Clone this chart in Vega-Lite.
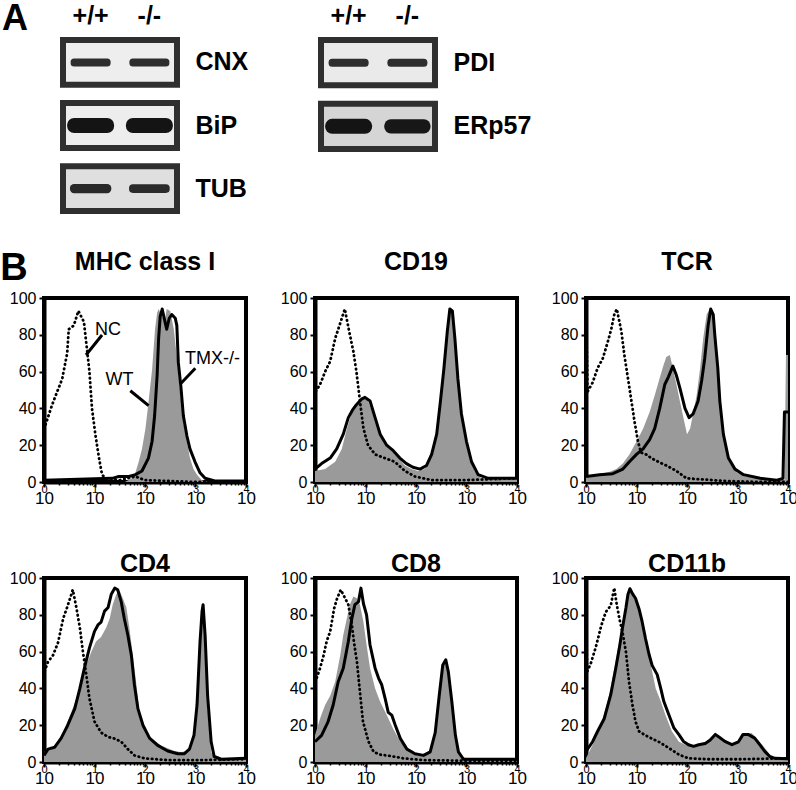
{
"$schema": "https://vega.github.io/schema/vega-lite/v6.json",
"background": "white",
"padding": {"left": 0, "right": 0, "top": 0, "bottom": 0},
"config": {
  "font": "Liberation Sans",
  "axis": {"labelFont": "Liberation Sans", "labelColor": "black", "tickColor": "black", "domainColor": "black", "titleColor": "black", "titleFont": "Liberation Sans", "labelOverlap": false},
  "title": {"font": "Liberation Sans", "fontWeight": "bold", "fontSize": 25, "color": "black", "frame": "group", "baseline": "alphabetic"},
  "text": {"font": "Liberation Sans"}
},
"datasets": {
  "membranes": [
    {"gel": "left", "protein": "CNX", "background": 0.1},
    {"gel": "left", "protein": "BiP", "background": 0.12},
    {"gel": "left", "protein": "TUB", "background": 0.45},
    {"gel": "right", "protein": "PDI", "background": 0.2},
    {"gel": "right", "protein": "ERp57", "background": 0.7}
  ],
  "bands": [
    {"gel": "left", "protein": "CNX", "lane": "+/+", "signal": 1.0},
    {"gel": "left", "protein": "CNX", "lane": "-/-", "signal": 1.0},
    {"gel": "left", "protein": "BiP", "lane": "+/+", "signal": 2.0},
    {"gel": "left", "protein": "BiP", "lane": "-/-", "signal": 2.0},
    {"gel": "left", "protein": "TUB", "lane": "+/+", "signal": 1.2},
    {"gel": "left", "protein": "TUB", "lane": "-/-", "signal": 1.1},
    {"gel": "right", "protein": "PDI", "lane": "+/+", "signal": 1.0},
    {"gel": "right", "protein": "PDI", "lane": "-/-", "signal": 1.0},
    {"gel": "right", "protein": "ERp57", "lane": "+/+", "signal": 2.0},
    {"gel": "right", "protein": "ERp57", "lane": "-/-", "signal": 1.9}
  ],
  "notes": [
    {"panel": "MHC", "label": "NC", "fl": 18.5, "pct": 82.6, "from_fl": 14.1, "from_pct": 79.9, "to_fl": 6.79, "to_pct": 69},
    {"panel": "MHC", "label": "WT", "fl": 31.3, "pct": 55.4, "from_fl": 51.2, "from_pct": 49.6, "to_fl": 118, "to_pct": 41.5},
    {"panel": "MHC", "label": "TMX-/-", "fl": 2173, "pct": 67.1, "from_fl": 991, "from_pct": 61.8, "to_fl": 501, "to_pct": 53.3}
  ],
  "hist": [
{"panel":"MHC","series":"NC","fl":1,"pct":100},{"panel":"MHC","series":"NC","fl":1.01,"pct":29},{"panel":"MHC","series":"NC","fl":1.45,"pct":42},{"panel":"MHC","series":"NC","fl":1.82,"pct":49},{"panel":"MHC","series":"NC","fl":2.29,"pct":56},{"panel":"MHC","series":"NC","fl":2.88,"pct":70},{"panel":"MHC","series":"NC","fl":3.09,"pct":83},{"panel":"MHC","series":"NC","fl":3.89,"pct":85},{"panel":"MHC","series":"NC","fl":4.79,"pct":93},{"panel":"MHC","series":"NC","fl":6.17,"pct":87},{"panel":"MHC","series":"NC","fl":7.24,"pct":70},{"panel":"MHC","series":"NC","fl":7.94,"pct":60},{"panel":"MHC","series":"NC","fl":8.91,"pct":40},{"panel":"MHC","series":"NC","fl":10.5,"pct":25},{"panel":"MHC","series":"NC","fl":12.3,"pct":13},{"panel":"MHC","series":"NC","fl":14.1,"pct":4},{"panel":"MHC","series":"NC","fl":16.6,"pct":2},{"panel":"MHC","series":"NC","fl":31.6,"pct":1},{"panel":"MHC","series":"NC","fl":64.6,"pct":3},{"panel":"MHC","series":"NC","fl":100,"pct":1},{"panel":"MHC","series":"NC","fl":316,"pct":0.5},{"panel":"MHC","series":"NC","fl":1000,"pct":0},{"panel":"MHC","series":"NC","fl":10000,"pct":0},
{"panel":"MHC","series":"WT","fl":39.8,"pct":0},{"panel":"MHC","series":"WT","fl":55,"pct":2},{"panel":"MHC","series":"WT","fl":64.6,"pct":5},{"panel":"MHC","series":"WT","fl":75,"pct":11},{"panel":"MHC","series":"WT","fl":87.1,"pct":18},{"panel":"MHC","series":"WT","fl":102,"pct":29},{"panel":"MHC","series":"WT","fl":117,"pct":43},{"panel":"MHC","series":"WT","fl":138,"pct":61},{"panel":"MHC","series":"WT","fl":158,"pct":83},{"panel":"MHC","series":"WT","fl":174,"pct":92},{"panel":"MHC","series":"WT","fl":186,"pct":94},{"panel":"MHC","series":"WT","fl":219,"pct":90},{"panel":"MHC","series":"WT","fl":251,"pct":89},{"panel":"MHC","series":"WT","fl":269,"pct":94},{"panel":"MHC","series":"WT","fl":316,"pct":93},{"panel":"MHC","series":"WT","fl":372,"pct":83},{"panel":"MHC","series":"WT","fl":427,"pct":68},{"panel":"MHC","series":"WT","fl":501,"pct":48},{"panel":"MHC","series":"WT","fl":575,"pct":32},{"panel":"MHC","series":"WT","fl":676,"pct":22},{"panel":"MHC","series":"WT","fl":776,"pct":13},{"panel":"MHC","series":"WT","fl":912,"pct":7},{"panel":"MHC","series":"WT","fl":1072,"pct":4},{"panel":"MHC","series":"WT","fl":1334,"pct":1},{"panel":"MHC","series":"WT","fl":1778,"pct":0},
{"panel":"MHC","series":"TMX-/-","fl":1,"pct":1},{"panel":"MHC","series":"TMX-/-","fl":22.4,"pct":2},{"panel":"MHC","series":"TMX-/-","fl":30.2,"pct":3},{"panel":"MHC","series":"TMX-/-","fl":47.9,"pct":3},{"panel":"MHC","series":"TMX-/-","fl":64.6,"pct":4},{"panel":"MHC","series":"TMX-/-","fl":87.1,"pct":6},{"panel":"MHC","series":"TMX-/-","fl":117,"pct":13},{"panel":"MHC","series":"TMX-/-","fl":138,"pct":22},{"panel":"MHC","series":"TMX-/-","fl":155,"pct":36},{"panel":"MHC","series":"TMX-/-","fl":174,"pct":58},{"panel":"MHC","series":"TMX-/-","fl":186,"pct":78},{"panel":"MHC","series":"TMX-/-","fl":200,"pct":90},{"panel":"MHC","series":"TMX-/-","fl":219,"pct":94},{"panel":"MHC","series":"TMX-/-","fl":240,"pct":89},{"panel":"MHC","series":"TMX-/-","fl":269,"pct":83},{"panel":"MHC","series":"TMX-/-","fl":302,"pct":89},{"panel":"MHC","series":"TMX-/-","fl":339,"pct":91},{"panel":"MHC","series":"TMX-/-","fl":398,"pct":89},{"panel":"MHC","series":"TMX-/-","fl":427,"pct":85},{"panel":"MHC","series":"TMX-/-","fl":457,"pct":65},{"panel":"MHC","series":"TMX-/-","fl":513,"pct":52},{"panel":"MHC","series":"TMX-/-","fl":575,"pct":36},{"panel":"MHC","series":"TMX-/-","fl":676,"pct":25},{"panel":"MHC","series":"TMX-/-","fl":776,"pct":18},{"panel":"MHC","series":"TMX-/-","fl":977,"pct":11},{"panel":"MHC","series":"TMX-/-","fl":1230,"pct":5},{"panel":"MHC","series":"TMX-/-","fl":1549,"pct":2},{"panel":"MHC","series":"TMX-/-","fl":2512,"pct":0.5},{"panel":"MHC","series":"TMX-/-","fl":10000,"pct":0.5},
{"panel":"CD19","series":"NC","fl":1,"pct":100},{"panel":"CD19","series":"NC","fl":1.02,"pct":49},{"panel":"CD19","series":"NC","fl":1.26,"pct":53},{"panel":"CD19","series":"NC","fl":1.585,"pct":60},{"panel":"CD19","series":"NC","fl":2.0,"pct":65.6},{"panel":"CD19","series":"NC","fl":2.51,"pct":78},{"panel":"CD19","series":"NC","fl":3.09,"pct":85.5},{"panel":"CD19","series":"NC","fl":3.89,"pct":94},{"panel":"CD19","series":"NC","fl":4.9,"pct":80},{"panel":"CD19","series":"NC","fl":5.75,"pct":71},{"panel":"CD19","series":"NC","fl":6.61,"pct":60},{"panel":"CD19","series":"NC","fl":7.76,"pct":44},{"panel":"CD19","series":"NC","fl":9.12,"pct":29},{"panel":"CD19","series":"NC","fl":11.2,"pct":20},{"panel":"CD19","series":"NC","fl":15.5,"pct":15},{"panel":"CD19","series":"NC","fl":24,"pct":13},{"panel":"CD19","series":"NC","fl":38,"pct":11},{"panel":"CD19","series":"NC","fl":60.3,"pct":6},{"panel":"CD19","series":"NC","fl":95.5,"pct":3},{"panel":"CD19","series":"NC","fl":204,"pct":1},{"panel":"CD19","series":"NC","fl":933,"pct":1},{"panel":"CD19","series":"NC","fl":8913,"pct":2},{"panel":"CD19","series":"NC","fl":10000,"pct":2},
{"panel":"CD19","series":"WT","fl":1,"pct":6},{"panel":"CD19","series":"WT","fl":1.585,"pct":7},{"panel":"CD19","series":"WT","fl":2.51,"pct":11},{"panel":"CD19","series":"WT","fl":3.39,"pct":18},{"panel":"CD19","series":"WT","fl":4.27,"pct":29},{"panel":"CD19","series":"WT","fl":5.25,"pct":37},{"panel":"CD19","series":"WT","fl":6.61,"pct":42},{"panel":"CD19","series":"WT","fl":8.32,"pct":45},{"panel":"CD19","series":"WT","fl":9.77,"pct":46},{"panel":"CD19","series":"WT","fl":11.2,"pct":44},{"panel":"CD19","series":"WT","fl":14.1,"pct":37},{"panel":"CD19","series":"WT","fl":17.8,"pct":29},{"panel":"CD19","series":"WT","fl":24,"pct":22},{"panel":"CD19","series":"WT","fl":33.1,"pct":18},{"panel":"CD19","series":"WT","fl":44.7,"pct":13},{"panel":"CD19","series":"WT","fl":60.3,"pct":9},{"panel":"CD19","series":"WT","fl":81.3,"pct":7},{"panel":"CD19","series":"WT","fl":110,"pct":6},{"panel":"CD19","series":"WT","fl":148,"pct":7},{"panel":"CD19","series":"WT","fl":186,"pct":11},{"panel":"CD19","series":"WT","fl":234,"pct":20},{"panel":"CD19","series":"WT","fl":295,"pct":38},{"panel":"CD19","series":"WT","fl":347,"pct":56},{"panel":"CD19","series":"WT","fl":398,"pct":76},{"panel":"CD19","series":"WT","fl":468,"pct":93},{"panel":"CD19","series":"WT","fl":490,"pct":95},{"panel":"CD19","series":"WT","fl":537,"pct":87},{"panel":"CD19","series":"WT","fl":631,"pct":66},{"panel":"CD19","series":"WT","fl":741,"pct":42},{"panel":"CD19","series":"WT","fl":933,"pct":24},{"panel":"CD19","series":"WT","fl":1148,"pct":13},{"panel":"CD19","series":"WT","fl":1445,"pct":6},{"panel":"CD19","series":"WT","fl":1950,"pct":2},{"panel":"CD19","series":"WT","fl":4169,"pct":1},{"panel":"CD19","series":"WT","fl":10000,"pct":2},
{"panel":"CD19","series":"TMX-/-","fl":1,"pct":7},{"panel":"CD19","series":"TMX-/-","fl":1.35,"pct":10},{"panel":"CD19","series":"TMX-/-","fl":2.0,"pct":13},{"panel":"CD19","series":"TMX-/-","fl":2.69,"pct":18},{"panel":"CD19","series":"TMX-/-","fl":3.63,"pct":26},{"panel":"CD19","series":"TMX-/-","fl":4.57,"pct":35},{"panel":"CD19","series":"TMX-/-","fl":5.5,"pct":39},{"panel":"CD19","series":"TMX-/-","fl":6.61,"pct":42},{"panel":"CD19","series":"TMX-/-","fl":8.32,"pct":45},{"panel":"CD19","series":"TMX-/-","fl":9.77,"pct":46},{"panel":"CD19","series":"TMX-/-","fl":12.3,"pct":44},{"panel":"CD19","series":"TMX-/-","fl":15.5,"pct":35},{"panel":"CD19","series":"TMX-/-","fl":19.5,"pct":26},{"panel":"CD19","series":"TMX-/-","fl":26.3,"pct":20},{"panel":"CD19","series":"TMX-/-","fl":35.5,"pct":17},{"panel":"CD19","series":"TMX-/-","fl":47.9,"pct":13},{"panel":"CD19","series":"TMX-/-","fl":64.6,"pct":10},{"panel":"CD19","series":"TMX-/-","fl":87.1,"pct":8},{"panel":"CD19","series":"TMX-/-","fl":120,"pct":7},{"panel":"CD19","series":"TMX-/-","fl":162,"pct":9},{"panel":"CD19","series":"TMX-/-","fl":204,"pct":15},{"panel":"CD19","series":"TMX-/-","fl":257,"pct":26},{"panel":"CD19","series":"TMX-/-","fl":302,"pct":43},{"panel":"CD19","series":"TMX-/-","fl":355,"pct":61},{"panel":"CD19","series":"TMX-/-","fl":417,"pct":82},{"panel":"CD19","series":"TMX-/-","fl":468,"pct":94},{"panel":"CD19","series":"TMX-/-","fl":525,"pct":93},{"panel":"CD19","series":"TMX-/-","fl":589,"pct":78},{"panel":"CD19","series":"TMX-/-","fl":676,"pct":56},{"panel":"CD19","series":"TMX-/-","fl":794,"pct":37},{"panel":"CD19","series":"TMX-/-","fl":1000,"pct":22},{"panel":"CD19","series":"TMX-/-","fl":1259,"pct":11},{"panel":"CD19","series":"TMX-/-","fl":1698,"pct":4},{"panel":"CD19","series":"TMX-/-","fl":2692,"pct":2},{"panel":"CD19","series":"TMX-/-","fl":10000,"pct":2},
{"panel":"TCR","series":"NC","fl":1,"pct":100},{"panel":"TCR","series":"NC","fl":1.07,"pct":49},{"panel":"TCR","series":"NC","fl":1.35,"pct":54},{"panel":"TCR","series":"NC","fl":1.7,"pct":62},{"panel":"TCR","series":"NC","fl":2.14,"pct":67},{"panel":"TCR","series":"NC","fl":2.69,"pct":76},{"panel":"TCR","series":"NC","fl":3.16,"pct":83},{"panel":"TCR","series":"NC","fl":3.63,"pct":91},{"panel":"TCR","series":"NC","fl":4.07,"pct":94},{"panel":"TCR","series":"NC","fl":5.01,"pct":82},{"panel":"TCR","series":"NC","fl":5.75,"pct":69},{"panel":"TCR","series":"NC","fl":6.76,"pct":56.5},{"panel":"TCR","series":"NC","fl":7.94,"pct":44},{"panel":"TCR","series":"NC","fl":9.12,"pct":33},{"panel":"TCR","series":"NC","fl":10.7,"pct":22},{"panel":"TCR","series":"NC","fl":12.3,"pct":16},{"panel":"TCR","series":"NC","fl":15.5,"pct":15},{"panel":"TCR","series":"NC","fl":19.5,"pct":13},{"panel":"TCR","series":"NC","fl":26.9,"pct":11},{"panel":"TCR","series":"NC","fl":38.9,"pct":9},{"panel":"TCR","series":"NC","fl":61.7,"pct":6},{"panel":"TCR","series":"NC","fl":97.7,"pct":2},{"panel":"TCR","series":"NC","fl":182,"pct":1.5},{"panel":"TCR","series":"NC","fl":617,"pct":0.5},{"panel":"TCR","series":"NC","fl":2818,"pct":0},{"panel":"TCR","series":"NC","fl":10000,"pct":0},
{"panel":"TCR","series":"WT","fl":1,"pct":3},{"panel":"TCR","series":"WT","fl":1.86,"pct":4.5},{"panel":"TCR","series":"WT","fl":2.88,"pct":5.4},{"panel":"TCR","series":"WT","fl":3.98,"pct":7},{"panel":"TCR","series":"WT","fl":5.37,"pct":10},{"panel":"TCR","series":"WT","fl":7.24,"pct":15},{"panel":"TCR","series":"WT","fl":10,"pct":22},{"panel":"TCR","series":"WT","fl":13.5,"pct":29},{"panel":"TCR","series":"WT","fl":18.2,"pct":38},{"panel":"TCR","series":"WT","fl":22.9,"pct":47},{"panel":"TCR","series":"WT","fl":28.8,"pct":56.5},{"panel":"TCR","series":"WT","fl":33.9,"pct":63},{"panel":"TCR","series":"WT","fl":38.9,"pct":68},{"panel":"TCR","series":"WT","fl":45.7,"pct":69},{"panel":"TCR","series":"WT","fl":52.5,"pct":62},{"panel":"TCR","series":"WT","fl":61.7,"pct":53},{"panel":"TCR","series":"WT","fl":77.6,"pct":40},{"panel":"TCR","series":"WT","fl":91.2,"pct":31},{"panel":"TCR","series":"WT","fl":100,"pct":26},{"panel":"TCR","series":"WT","fl":115,"pct":29},{"panel":"TCR","series":"WT","fl":132,"pct":37},{"panel":"TCR","series":"WT","fl":155,"pct":47},{"panel":"TCR","series":"WT","fl":182,"pct":62},{"panel":"TCR","series":"WT","fl":209,"pct":78},{"panel":"TCR","series":"WT","fl":245,"pct":91},{"panel":"TCR","series":"WT","fl":282,"pct":94},{"panel":"TCR","series":"WT","fl":324,"pct":91},{"panel":"TCR","series":"WT","fl":355,"pct":78},{"panel":"TCR","series":"WT","fl":417,"pct":56},{"panel":"TCR","series":"WT","fl":490,"pct":34},{"panel":"TCR","series":"WT","fl":562,"pct":20},{"panel":"TCR","series":"WT","fl":708,"pct":11},{"panel":"TCR","series":"WT","fl":977,"pct":5},{"panel":"TCR","series":"WT","fl":1514,"pct":3},{"panel":"TCR","series":"WT","fl":2818,"pct":2},{"panel":"TCR","series":"WT","fl":5129,"pct":1},{"panel":"TCR","series":"WT","fl":8511,"pct":1},{"panel":"TCR","series":"WT","fl":9120,"pct":69},{"panel":"TCR","series":"WT","fl":10000,"pct":69},
{"panel":"TCR","series":"TMX-/-","fl":1,"pct":3},{"panel":"TCR","series":"TMX-/-","fl":1.86,"pct":4},{"panel":"TCR","series":"TMX-/-","fl":3.39,"pct":4.5},{"panel":"TCR","series":"TMX-/-","fl":5.37,"pct":7},{"panel":"TCR","series":"TMX-/-","fl":7.24,"pct":11},{"panel":"TCR","series":"TMX-/-","fl":10,"pct":15},{"panel":"TCR","series":"TMX-/-","fl":13.5,"pct":18},{"panel":"TCR","series":"TMX-/-","fl":18.2,"pct":23},{"panel":"TCR","series":"TMX-/-","fl":22.9,"pct":29},{"panel":"TCR","series":"TMX-/-","fl":28.8,"pct":40},{"panel":"TCR","series":"TMX-/-","fl":36.3,"pct":53},{"panel":"TCR","series":"TMX-/-","fl":42.7,"pct":57},{"panel":"TCR","series":"TMX-/-","fl":52.5,"pct":63},{"panel":"TCR","series":"TMX-/-","fl":61.7,"pct":58},{"panel":"TCR","series":"TMX-/-","fl":72.4,"pct":51},{"panel":"TCR","series":"TMX-/-","fl":91.2,"pct":40},{"panel":"TCR","series":"TMX-/-","fl":110,"pct":35},{"panel":"TCR","series":"TMX-/-","fl":132,"pct":37},{"panel":"TCR","series":"TMX-/-","fl":166,"pct":44},{"panel":"TCR","series":"TMX-/-","fl":195,"pct":55},{"panel":"TCR","series":"TMX-/-","fl":224,"pct":67},{"panel":"TCR","series":"TMX-/-","fl":263,"pct":85.5},{"panel":"TCR","series":"TMX-/-","fl":295,"pct":94},{"panel":"TCR","series":"TMX-/-","fl":331,"pct":91},{"panel":"TCR","series":"TMX-/-","fl":355,"pct":80},{"panel":"TCR","series":"TMX-/-","fl":407,"pct":62},{"panel":"TCR","series":"TMX-/-","fl":447,"pct":44},{"panel":"TCR","series":"TMX-/-","fl":525,"pct":26},{"panel":"TCR","series":"TMX-/-","fl":661,"pct":13},{"panel":"TCR","series":"TMX-/-","fl":891,"pct":7},{"panel":"TCR","series":"TMX-/-","fl":1318,"pct":4},{"panel":"TCR","series":"TMX-/-","fl":2818,"pct":2},{"panel":"TCR","series":"TMX-/-","fl":6026,"pct":1},{"panel":"TCR","series":"TMX-/-","fl":7943,"pct":2},{"panel":"TCR","series":"TMX-/-","fl":8511,"pct":38},{"panel":"TCR","series":"TMX-/-","fl":10000,"pct":38},
{"panel":"CD4","series":"NC","fl":1,"pct":100},{"panel":"CD4","series":"NC","fl":1.02,"pct":49},{"panel":"CD4","series":"NC","fl":1.2,"pct":54.5},{"panel":"CD4","series":"NC","fl":1.51,"pct":58},{"panel":"CD4","series":"NC","fl":1.9,"pct":65},{"panel":"CD4","series":"NC","fl":2.4,"pct":78},{"panel":"CD4","series":"NC","fl":2.95,"pct":85},{"panel":"CD4","series":"NC","fl":3.72,"pct":93.6},{"panel":"CD4","series":"NC","fl":4.37,"pct":84},{"panel":"CD4","series":"NC","fl":5.13,"pct":73},{"panel":"CD4","series":"NC","fl":5.89,"pct":60},{"panel":"CD4","series":"NC","fl":6.92,"pct":47},{"panel":"CD4","series":"NC","fl":7.94,"pct":34.5},{"panel":"CD4","series":"NC","fl":10,"pct":22},{"panel":"CD4","series":"NC","fl":13.5,"pct":16},{"panel":"CD4","series":"NC","fl":18.6,"pct":13.6},{"panel":"CD4","series":"NC","fl":25.1,"pct":12.7},{"panel":"CD4","series":"NC","fl":33.9,"pct":11},{"panel":"CD4","series":"NC","fl":45.7,"pct":7},{"panel":"CD4","series":"NC","fl":61.7,"pct":3.6},{"panel":"CD4","series":"NC","fl":97.7,"pct":2},{"panel":"CD4","series":"NC","fl":282,"pct":1},{"panel":"CD4","series":"NC","fl":1288,"pct":1},{"panel":"CD4","series":"NC","fl":7943,"pct":1.5},{"panel":"CD4","series":"NC","fl":10000,"pct":1.5},
{"panel":"CD4","series":"WT","fl":1,"pct":5.5},{"panel":"CD4","series":"WT","fl":1.4,"pct":7},{"panel":"CD4","series":"WT","fl":1.9,"pct":11},{"panel":"CD4","series":"WT","fl":2.57,"pct":18},{"panel":"CD4","series":"WT","fl":3.47,"pct":27},{"panel":"CD4","series":"WT","fl":4.37,"pct":34.5},{"panel":"CD4","series":"WT","fl":5.5,"pct":43.6},{"panel":"CD4","series":"WT","fl":6.92,"pct":53},{"panel":"CD4","series":"WT","fl":8.71,"pct":60},{"panel":"CD4","series":"WT","fl":10.7,"pct":65.5},{"panel":"CD4","series":"WT","fl":13.5,"pct":68},{"panel":"CD4","series":"WT","fl":17,"pct":73},{"panel":"CD4","series":"WT","fl":20,"pct":78},{"panel":"CD4","series":"WT","fl":22.9,"pct":85.5},{"panel":"CD4","series":"WT","fl":26.9,"pct":91},{"panel":"CD4","series":"WT","fl":31.6,"pct":93},{"panel":"CD4","series":"WT","fl":36.3,"pct":89},{"panel":"CD4","series":"WT","fl":42.7,"pct":84},{"panel":"CD4","series":"WT","fl":49,"pct":73},{"panel":"CD4","series":"WT","fl":57.5,"pct":58},{"panel":"CD4","series":"WT","fl":67.6,"pct":42},{"panel":"CD4","series":"WT","fl":77.6,"pct":27},{"panel":"CD4","series":"WT","fl":97.7,"pct":18},{"panel":"CD4","series":"WT","fl":132,"pct":13},{"panel":"CD4","series":"WT","fl":209,"pct":9},{"panel":"CD4","series":"WT","fl":380,"pct":6},{"panel":"CD4","series":"WT","fl":513,"pct":5.5},{"panel":"CD4","series":"WT","fl":708,"pct":6},{"panel":"CD4","series":"WT","fl":891,"pct":13},{"panel":"CD4","series":"WT","fl":1023,"pct":29},{"panel":"CD4","series":"WT","fl":1202,"pct":56},{"panel":"CD4","series":"WT","fl":1288,"pct":80},{"panel":"CD4","series":"WT","fl":1380,"pct":85},{"panel":"CD4","series":"WT","fl":1549,"pct":62},{"panel":"CD4","series":"WT","fl":1738,"pct":29},{"panel":"CD4","series":"WT","fl":2042,"pct":5.5},{"panel":"CD4","series":"WT","fl":2344,"pct":2},{"panel":"CD4","series":"WT","fl":5888,"pct":1},{"panel":"CD4","series":"WT","fl":10000,"pct":1.5},
{"panel":"CD4","series":"TMX-/-","fl":1,"pct":3.6},{"panel":"CD4","series":"TMX-/-","fl":1.2,"pct":7},{"panel":"CD4","series":"TMX-/-","fl":1.62,"pct":8},{"panel":"CD4","series":"TMX-/-","fl":2.19,"pct":13},{"panel":"CD4","series":"TMX-/-","fl":2.95,"pct":20},{"panel":"CD4","series":"TMX-/-","fl":4.07,"pct":29},{"panel":"CD4","series":"TMX-/-","fl":5.13,"pct":40},{"panel":"CD4","series":"TMX-/-","fl":6.31,"pct":51},{"panel":"CD4","series":"TMX-/-","fl":7.94,"pct":62},{"panel":"CD4","series":"TMX-/-","fl":10,"pct":71},{"panel":"CD4","series":"TMX-/-","fl":11.7,"pct":74.5},{"panel":"CD4","series":"TMX-/-","fl":13.5,"pct":76},{"panel":"CD4","series":"TMX-/-","fl":15.8,"pct":82},{"panel":"CD4","series":"TMX-/-","fl":18.6,"pct":84},{"panel":"CD4","series":"TMX-/-","fl":21.4,"pct":91},{"panel":"CD4","series":"TMX-/-","fl":25.1,"pct":94.5},{"panel":"CD4","series":"TMX-/-","fl":28.8,"pct":93.6},{"panel":"CD4","series":"TMX-/-","fl":33.9,"pct":87},{"panel":"CD4","series":"TMX-/-","fl":38.9,"pct":78},{"panel":"CD4","series":"TMX-/-","fl":45.7,"pct":69},{"panel":"CD4","series":"TMX-/-","fl":53.7,"pct":58},{"panel":"CD4","series":"TMX-/-","fl":61.7,"pct":42},{"panel":"CD4","series":"TMX-/-","fl":72.4,"pct":29},{"panel":"CD4","series":"TMX-/-","fl":91.2,"pct":20},{"panel":"CD4","series":"TMX-/-","fl":123,"pct":13},{"panel":"CD4","series":"TMX-/-","fl":178,"pct":9},{"panel":"CD4","series":"TMX-/-","fl":282,"pct":6},{"panel":"CD4","series":"TMX-/-","fl":447,"pct":4.5},{"panel":"CD4","series":"TMX-/-","fl":603,"pct":4.5},{"panel":"CD4","series":"TMX-/-","fl":759,"pct":7},{"panel":"CD4","series":"TMX-/-","fl":933,"pct":14.5},{"panel":"CD4","series":"TMX-/-","fl":1072,"pct":31},{"panel":"CD4","series":"TMX-/-","fl":1230,"pct":65.5},{"panel":"CD4","series":"TMX-/-","fl":1349,"pct":82},{"panel":"CD4","series":"TMX-/-","fl":1413,"pct":85.5},{"panel":"CD4","series":"TMX-/-","fl":1549,"pct":69},{"panel":"CD4","series":"TMX-/-","fl":1738,"pct":36},{"panel":"CD4","series":"TMX-/-","fl":2042,"pct":11},{"panel":"CD4","series":"TMX-/-","fl":2344,"pct":3},{"panel":"CD4","series":"TMX-/-","fl":3236,"pct":1.5},{"panel":"CD4","series":"TMX-/-","fl":10000,"pct":2},
{"panel":"CD8","series":"NC","fl":1,"pct":100},{"panel":"CD8","series":"NC","fl":1.02,"pct":43.6},{"panel":"CD8","series":"NC","fl":1.26,"pct":51},{"panel":"CD8","series":"NC","fl":1.48,"pct":58},{"panel":"CD8","series":"NC","fl":1.7,"pct":65.5},{"panel":"CD8","series":"NC","fl":2.0,"pct":71},{"panel":"CD8","series":"NC","fl":2.4,"pct":83.6},{"panel":"CD8","series":"NC","fl":2.75,"pct":89},{"panel":"CD8","series":"NC","fl":3.24,"pct":93.6},{"panel":"CD8","series":"NC","fl":3.94,"pct":89},{"panel":"CD8","series":"NC","fl":4.57,"pct":85.5},{"panel":"CD8","series":"NC","fl":5.37,"pct":74.5},{"panel":"CD8","series":"NC","fl":5.89,"pct":65.5},{"panel":"CD8","series":"NC","fl":6.76,"pct":54.5},{"panel":"CD8","series":"NC","fl":7.76,"pct":38},{"panel":"CD8","series":"NC","fl":8.91,"pct":22},{"panel":"CD8","series":"NC","fl":11.5,"pct":11},{"panel":"CD8","series":"NC","fl":14.5,"pct":5.5},{"panel":"CD8","series":"NC","fl":19.5,"pct":4},{"panel":"CD8","series":"NC","fl":30.9,"pct":3.3},{"panel":"CD8","series":"NC","fl":56.2,"pct":2},{"panel":"CD8","series":"NC","fl":141,"pct":1},{"panel":"CD8","series":"NC","fl":871,"pct":0.7},{"panel":"CD8","series":"NC","fl":10000,"pct":0.7},
{"panel":"CD8","series":"WT","fl":1,"pct":14.5},{"panel":"CD8","series":"WT","fl":1.26,"pct":23.6},{"panel":"CD8","series":"WT","fl":1.585,"pct":31},{"panel":"CD8","series":"WT","fl":2.0,"pct":36},{"panel":"CD8","series":"WT","fl":2.51,"pct":43.6},{"panel":"CD8","series":"WT","fl":3.16,"pct":58},{"panel":"CD8","series":"WT","fl":3.63,"pct":69},{"panel":"CD8","series":"WT","fl":4.27,"pct":78},{"panel":"CD8","series":"WT","fl":4.9,"pct":85.5},{"panel":"CD8","series":"WT","fl":5.75,"pct":90},{"panel":"CD8","series":"WT","fl":6.76,"pct":89},{"panel":"CD8","series":"WT","fl":7.76,"pct":85.5},{"panel":"CD8","series":"WT","fl":9.12,"pct":76},{"panel":"CD8","series":"WT","fl":10.5,"pct":63.6},{"panel":"CD8","series":"WT","fl":12.3,"pct":51},{"panel":"CD8","series":"WT","fl":15.5,"pct":40},{"panel":"CD8","series":"WT","fl":19.5,"pct":32.7},{"panel":"CD8","series":"WT","fl":26.3,"pct":25.5},{"panel":"CD8","series":"WT","fl":35.5,"pct":18},{"panel":"CD8","series":"WT","fl":49,"pct":11},{"panel":"CD8","series":"WT","fl":66.1,"pct":7},{"panel":"CD8","series":"WT","fl":105,"pct":3.6},{"panel":"CD8","series":"WT","fl":141,"pct":3.3},{"panel":"CD8","series":"WT","fl":191,"pct":5.5},{"panel":"CD8","series":"WT","fl":240,"pct":16},{"panel":"CD8","series":"WT","fl":282,"pct":34.5},{"panel":"CD8","series":"WT","fl":324,"pct":50},{"panel":"CD8","series":"WT","fl":372,"pct":54.5},{"panel":"CD8","series":"WT","fl":437,"pct":47},{"panel":"CD8","series":"WT","fl":513,"pct":29},{"panel":"CD8","series":"WT","fl":603,"pct":12.7},{"panel":"CD8","series":"WT","fl":759,"pct":3.6},{"panel":"CD8","series":"WT","fl":1175,"pct":1},{"panel":"CD8","series":"WT","fl":10000,"pct":1},
{"panel":"CD8","series":"TMX-/-","fl":1,"pct":11},{"panel":"CD8","series":"TMX-/-","fl":1.35,"pct":14.5},{"panel":"CD8","series":"TMX-/-","fl":1.82,"pct":22},{"panel":"CD8","series":"TMX-/-","fl":2.29,"pct":31},{"panel":"CD8","series":"TMX-/-","fl":2.88,"pct":43.6},{"panel":"CD8","series":"TMX-/-","fl":3.63,"pct":51},{"panel":"CD8","series":"TMX-/-","fl":4.57,"pct":65.5},{"panel":"CD8","series":"TMX-/-","fl":5.37,"pct":78},{"panel":"CD8","series":"TMX-/-","fl":6.17,"pct":85.5},{"panel":"CD8","series":"TMX-/-","fl":7.24,"pct":87},{"panel":"CD8","series":"TMX-/-","fl":8.13,"pct":94.5},{"panel":"CD8","series":"TMX-/-","fl":9.12,"pct":86},{"panel":"CD8","series":"TMX-/-","fl":10.5,"pct":80},{"panel":"CD8","series":"TMX-/-","fl":12.3,"pct":63.6},{"panel":"CD8","series":"TMX-/-","fl":15.5,"pct":51},{"panel":"CD8","series":"TMX-/-","fl":18.2,"pct":45.5},{"panel":"CD8","series":"TMX-/-","fl":20.9,"pct":42},{"panel":"CD8","series":"TMX-/-","fl":24.5,"pct":34.5},{"panel":"CD8","series":"TMX-/-","fl":28.2,"pct":27},{"panel":"CD8","series":"TMX-/-","fl":33.1,"pct":25.5},{"panel":"CD8","series":"TMX-/-","fl":38.9,"pct":20},{"panel":"CD8","series":"TMX-/-","fl":49,"pct":12.7},{"panel":"CD8","series":"TMX-/-","fl":66.1,"pct":7},{"panel":"CD8","series":"TMX-/-","fl":95.5,"pct":4.5},{"panel":"CD8","series":"TMX-/-","fl":141,"pct":3.6},{"panel":"CD8","series":"TMX-/-","fl":191,"pct":5.5},{"panel":"CD8","series":"TMX-/-","fl":240,"pct":16},{"panel":"CD8","series":"TMX-/-","fl":288,"pct":36},{"panel":"CD8","series":"TMX-/-","fl":339,"pct":52.7},{"panel":"CD8","series":"TMX-/-","fl":389,"pct":55.5},{"panel":"CD8","series":"TMX-/-","fl":437,"pct":49},{"panel":"CD8","series":"TMX-/-","fl":513,"pct":32.7},{"panel":"CD8","series":"TMX-/-","fl":603,"pct":14.5},{"panel":"CD8","series":"TMX-/-","fl":692,"pct":5.5},{"panel":"CD8","series":"TMX-/-","fl":871,"pct":1.5},{"panel":"CD8","series":"TMX-/-","fl":10000,"pct":1.5},
{"panel":"CD11b","series":"NC","fl":1,"pct":100},{"panel":"CD11b","series":"NC","fl":1.05,"pct":49},{"panel":"CD11b","series":"NC","fl":1.26,"pct":54},{"panel":"CD11b","series":"NC","fl":1.585,"pct":63},{"panel":"CD11b","series":"NC","fl":2.0,"pct":74},{"panel":"CD11b","series":"NC","fl":2.46,"pct":81.5},{"panel":"CD11b","series":"NC","fl":3.09,"pct":85},{"panel":"CD11b","series":"NC","fl":3.63,"pct":94.6},{"panel":"CD11b","series":"NC","fl":3.98,"pct":87},{"panel":"CD11b","series":"NC","fl":4.57,"pct":78},{"panel":"CD11b","series":"NC","fl":5.25,"pct":71},{"panel":"CD11b","series":"NC","fl":6.17,"pct":60},{"panel":"CD11b","series":"NC","fl":7.08,"pct":44},{"panel":"CD11b","series":"NC","fl":8.32,"pct":31},{"panel":"CD11b","series":"NC","fl":9.55,"pct":22},{"panel":"CD11b","series":"NC","fl":11.2,"pct":16.7},{"panel":"CD11b","series":"NC","fl":14.1,"pct":14.9},{"panel":"CD11b","series":"NC","fl":19.1,"pct":13},{"panel":"CD11b","series":"NC","fl":27.5,"pct":11},{"panel":"CD11b","series":"NC","fl":43.7,"pct":7.6},{"panel":"CD11b","series":"NC","fl":69.2,"pct":4},{"panel":"CD11b","series":"NC","fl":107,"pct":2},{"panel":"CD11b","series":"NC","fl":269,"pct":1.5},{"panel":"CD11b","series":"NC","fl":1202,"pct":1.5},{"panel":"CD11b","series":"NC","fl":8511,"pct":2},{"panel":"CD11b","series":"NC","fl":10000,"pct":2},
{"panel":"CD11b","series":"WT","fl":1,"pct":2},{"panel":"CD11b","series":"WT","fl":1.26,"pct":7.6},{"panel":"CD11b","series":"WT","fl":1.7,"pct":15},{"panel":"CD11b","series":"WT","fl":2.29,"pct":26},{"panel":"CD11b","series":"WT","fl":2.88,"pct":36.6},{"panel":"CD11b","series":"WT","fl":3.63,"pct":51},{"panel":"CD11b","series":"WT","fl":4.57,"pct":65.6},{"panel":"CD11b","series":"WT","fl":5.5,"pct":78},{"panel":"CD11b","series":"WT","fl":6.61,"pct":91},{"panel":"CD11b","series":"WT","fl":7.67,"pct":93.3},{"panel":"CD11b","series":"WT","fl":8.91,"pct":89},{"panel":"CD11b","series":"WT","fl":10.5,"pct":85},{"panel":"CD11b","series":"WT","fl":12,"pct":78},{"panel":"CD11b","series":"WT","fl":15.1,"pct":65.6},{"panel":"CD11b","series":"WT","fl":19.1,"pct":53},{"panel":"CD11b","series":"WT","fl":24,"pct":40},{"panel":"CD11b","series":"WT","fl":30.2,"pct":33},{"panel":"CD11b","series":"WT","fl":37.2,"pct":25.7},{"panel":"CD11b","series":"WT","fl":50.1,"pct":16.7},{"panel":"CD11b","series":"WT","fl":69.2,"pct":11},{"panel":"CD11b","series":"WT","fl":93.3,"pct":9.4},{"panel":"CD11b","series":"WT","fl":126,"pct":8.5},{"panel":"CD11b","series":"WT","fl":170,"pct":9.4},{"panel":"CD11b","series":"WT","fl":229,"pct":11},{"panel":"CD11b","series":"WT","fl":309,"pct":13},{"panel":"CD11b","series":"WT","fl":389,"pct":15},{"panel":"CD11b","series":"WT","fl":490,"pct":13},{"panel":"CD11b","series":"WT","fl":661,"pct":11},{"panel":"CD11b","series":"WT","fl":891,"pct":9.4},{"panel":"CD11b","series":"WT","fl":1122,"pct":13},{"panel":"CD11b","series":"WT","fl":1413,"pct":15},{"panel":"CD11b","series":"WT","fl":1905,"pct":15.8},{"panel":"CD11b","series":"WT","fl":2570,"pct":12},{"panel":"CD11b","series":"WT","fl":3467,"pct":7.6},{"panel":"CD11b","series":"WT","fl":4677,"pct":3},{"panel":"CD11b","series":"WT","fl":6310,"pct":1.8},{"panel":"CD11b","series":"WT","fl":10000,"pct":1.3},
{"panel":"CD11b","series":"TMX-/-","fl":1,"pct":5.8},{"panel":"CD11b","series":"TMX-/-","fl":1.35,"pct":11},{"panel":"CD11b","series":"TMX-/-","fl":1.7,"pct":16.7},{"panel":"CD11b","series":"TMX-/-","fl":2.29,"pct":23.5},{"panel":"CD11b","series":"TMX-/-","fl":3.09,"pct":36.6},{"panel":"CD11b","series":"TMX-/-","fl":3.89,"pct":51},{"panel":"CD11b","series":"TMX-/-","fl":4.68,"pct":63.6},{"panel":"CD11b","series":"TMX-/-","fl":5.25,"pct":72.5},{"panel":"CD11b","series":"TMX-/-","fl":6.17,"pct":83.7},{"panel":"CD11b","series":"TMX-/-","fl":6.76,"pct":91},{"panel":"CD11b","series":"TMX-/-","fl":7.41,"pct":94.2},{"panel":"CD11b","series":"TMX-/-","fl":8.32,"pct":91.5},{"panel":"CD11b","series":"TMX-/-","fl":9.55,"pct":89},{"panel":"CD11b","series":"TMX-/-","fl":11.2,"pct":83.3},{"panel":"CD11b","series":"TMX-/-","fl":12.9,"pct":76.4},{"panel":"CD11b","series":"TMX-/-","fl":15.1,"pct":67},{"panel":"CD11b","series":"TMX-/-","fl":17.8,"pct":58.3},{"panel":"CD11b","series":"TMX-/-","fl":20.4,"pct":52.5},{"panel":"CD11b","series":"TMX-/-","fl":25.7,"pct":47.5},{"panel":"CD11b","series":"TMX-/-","fl":30.2,"pct":40},{"panel":"CD11b","series":"TMX-/-","fl":34.7,"pct":33},{"panel":"CD11b","series":"TMX-/-","fl":43.7,"pct":25.7},{"panel":"CD11b","series":"TMX-/-","fl":55,"pct":18.5},{"panel":"CD11b","series":"TMX-/-","fl":69.2,"pct":14.9},{"panel":"CD11b","series":"TMX-/-","fl":85.1,"pct":11.2},{"panel":"CD11b","series":"TMX-/-","fl":107,"pct":9.4},{"panel":"CD11b","series":"TMX-/-","fl":135,"pct":8.5},{"panel":"CD11b","series":"TMX-/-","fl":170,"pct":9.4},{"panel":"CD11b","series":"TMX-/-","fl":229,"pct":10},{"panel":"CD11b","series":"TMX-/-","fl":288,"pct":12},{"panel":"CD11b","series":"TMX-/-","fl":363,"pct":15},{"panel":"CD11b","series":"TMX-/-","fl":457,"pct":13},{"panel":"CD11b","series":"TMX-/-","fl":562,"pct":11.2},{"panel":"CD11b","series":"TMX-/-","fl":776,"pct":9.4},{"panel":"CD11b","series":"TMX-/-","fl":1047,"pct":11},{"panel":"CD11b","series":"TMX-/-","fl":1288,"pct":15},{"panel":"CD11b","series":"TMX-/-","fl":1622,"pct":15},{"panel":"CD11b","series":"TMX-/-","fl":2188,"pct":13},{"panel":"CD11b","series":"TMX-/-","fl":2754,"pct":9.4},{"panel":"CD11b","series":"TMX-/-","fl":3467,"pct":5.8},{"panel":"CD11b","series":"TMX-/-","fl":4365,"pct":3},{"panel":"CD11b","series":"TMX-/-","fl":5495,"pct":2},{"panel":"CD11b","series":"TMX-/-","fl":10000,"pct":1.8}
  ]
},
"spacing": 34,
"vconcat": [
  {
    "spacing": 12,
    "hconcat": [
      {
        "width": 1, "height": 1,
        "title": {"text": "A", "anchor": "start", "frame": "group", "dx": -42, "offset": 0, "dy": 28, "fontSize": 36, "baseline": "alphabetic"},
        "data": {"values": [{}]},
        "view": {"stroke": null},
        "mark": {"type": "point", "opacity": 0},
        "encoding": {}
      },
      {
        "spacing": 70,
        "hconcat": [
          {
            "width": 114, "height": 171,
            "view": {"stroke": null},
            "encoding": {
              "y": {"field": "protein", "type": "nominal", "sort": ["CNX", "BiP", "TUB"], "scale": {"paddingInner": 0.29, "paddingOuter": 0},
                    "axis": {"orient": "right", "labelFontSize": 25, "labelFontWeight": "bold", "ticks": false, "domain": false, "labelPadding": 18, "title": null, "labelDy": 2}}
            },
            "layer": [
              {"data": {"name": "membranes"}, "transform": [{"filter": "datum.gel == 'left'"}],
               "mark": {"type": "rect", "stroke": "#2f2f2f", "strokeWidth": 6},
               "encoding": {"x": {"value": 0}, "x2": {"value": "width"},
                 "fill": {"field": "background", "type": "quantitative", "scale": {"domain": [0, 1], "range": ["#f2f2f2", "#a0a0a0"]}, "legend": null}}},
              {"data": {"name": "bands"}, "transform": [{"filter": "datum.gel == 'left'"}],
               "mark": {"type": "tick", "orient": "horizontal", "thickness": 1, "size": 33, "strokeJoin": "round", "opacity": 1},
               "encoding": {
                 "x": {"field": "lane", "type": "nominal", "sort": ["+/+", "-/-"], "scale": {"paddingInner": 0.4, "paddingOuter": 0.17},
                       "axis": {"orient": "top", "labelFontSize": 25, "labelFontWeight": "bold", "labelAngle": 0, "ticks": false, "domain": false, "labelPadding": 12, "title": null}},
                 "fill": {"field": "signal", "type": "quantitative", "scale": {"domain": [1, 2], "range": ["#2e2e2e", "#141414"]}, "legend": null},
                 "stroke": {"field": "signal", "type": "quantitative", "scale": {"domain": [1, 2], "range": ["#2e2e2e", "#141414"]}, "legend": null},
                 "strokeWidth": {"field": "signal", "type": "quantitative", "scale": {"domain": [1, 2], "range": [7, 14]}, "legend": null}}}
            ]
          },
          {
            "width": 114, "height": 109,
            "view": {"stroke": null},
            "encoding": {
              "y": {"field": "protein", "type": "nominal", "sort": ["PDI", "ERp57"], "scale": {"paddingInner": 0.29, "paddingOuter": 0},
                    "axis": {"orient": "right", "labelFontSize": 25, "labelFontWeight": "bold", "ticks": false, "domain": false, "labelPadding": 18, "title": null, "labelDy": 2}}
            },
            "layer": [
              {"data": {"name": "membranes"}, "transform": [{"filter": "datum.gel == 'right'"}],
               "mark": {"type": "rect", "stroke": "#2f2f2f", "strokeWidth": 6},
               "encoding": {"x": {"value": 0}, "x2": {"value": "width"},
                 "fill": {"field": "background", "type": "quantitative", "scale": {"domain": [0, 1], "range": ["#f2f2f2", "#a0a0a0"]}, "legend": null}}},
              {"data": {"name": "bands"}, "transform": [{"filter": "datum.gel == 'right'"}],
               "mark": {"type": "tick", "orient": "horizontal", "thickness": 1, "size": 33, "strokeJoin": "round", "opacity": 1},
               "encoding": {
                 "x": {"field": "lane", "type": "nominal", "sort": ["+/+", "-/-"], "scale": {"paddingInner": 0.4, "paddingOuter": 0.17},
                       "axis": {"orient": "top", "labelFontSize": 25, "labelFontWeight": "bold", "labelAngle": 0, "ticks": false, "domain": false, "labelPadding": 12, "title": null}},
                 "fill": {"field": "signal", "type": "quantitative", "scale": {"domain": [1, 2], "range": ["#2e2e2e", "#141414"]}, "legend": null},
                 "stroke": {"field": "signal", "type": "quantitative", "scale": {"domain": [1, 2], "range": ["#2e2e2e", "#141414"]}, "legend": null},
                 "strokeWidth": {"field": "signal", "type": "quantitative", "scale": {"domain": [1, 2], "range": [7, 14]}, "legend": null}}}
            ]
          }
        ]
      }
    ]
  },
  {
    "spacing": 42,
    "vconcat": [
      {
        "title": {"text": "B", "anchor": "start", "frame": "bounds", "fontSize": 38, "offset": 0, "dy": 40, "dx": -7},
        "spacing": 20,
        "hconcat": [
          {
            "width": 202, "height": 184, "title": {"text": "MHC class I", "offset": 15},
            "data": {"name": "hist"}, "view": {"stroke": "black", "strokeWidth": 4},
            "resolve": {"axis": {"x": "independent"}},
            "encoding": {"y": {"field": "pct", "type": "quantitative", "scale": {"domain": [0, 100], "nice": false, "zero": false}, "axis": {"values": [0, 20, 40, 60, 80, 100], "labelFontSize": 16, "tickSize": 5, "tickWidth": 2, "labelPadding": 3, "domainWidth": 4, "grid": false, "title": null, "labelFlush": false, "labelOverlap": false, "labelBound": false}}},
            "layer": [
              {"transform": [{"filter": "datum.panel == 'MHC' && datum.series == 'WT'"}], "mark": {"type": "area", "color": "#9a9a9a", "clip": true},
               "encoding": {"x": {"field": "fl", "type": "quantitative", "scale": {"type": "log", "domain": [1, 10000], "nice": false}, "axis": {"orient": "bottom", "values": [1, 10, 100, 1000, 10000], "labelExpr": "'10'", "labelFontSize": 17, "labelDx": -6, "labelPadding": 3, "tickSize": 5, "tickWidth": 2, "domainWidth": 4, "grid": false, "title": null, "labelFlush": false, "labelOverlap": false, "labelBound": false}}}},
              {"transform": [{"filter": "datum.panel == 'MHC' && datum.series == 'NC'"}], "mark": {"type": "line", "color": "black", "strokeWidth": 2.8, "strokeDash": [0.5, 4], "strokeCap": "round", "clip": true},
               "encoding": {"x": {"field": "fl", "type": "quantitative", "axis": {"orient": "bottom", "values": [1, 10, 100, 1000, 10000], "labelExpr": "format(round(log(datum.value)/LN10), 'd')", "labelFontSize": 11, "labelDx": 8, "labelPadding": 1, "ticks": false, "tickSize": 0, "domain": false, "grid": false, "title": null, "labelFlush": false, "labelOverlap": false, "labelBound": false}}}},
              {"transform": [{"filter": "datum.panel == 'MHC' && datum.series == 'TMX-/-'"}], "mark": {"type": "line", "color": "black", "strokeWidth": 3, "strokeJoin": "round", "clip": true},
               "encoding": {"x": {"field": "fl", "type": "quantitative", "axis": {"orient": "bottom", "values": [2,3,4,5,6,7,8,9,20,30,40,50,60,70,80,90,200,300,400,500,600,700,800,900,2000,3000,4000,5000,6000,7000,8000,9000], "labels": false, "tickSize": 3, "tickWidth": 1.5, "domain": false, "grid": false, "title": null}}}},
              {"data": {"name": "notes"}, "mark": {"type": "rule", "color": "black", "strokeWidth": 3},
               "encoding": {"x": {"field": "from_fl", "type": "quantitative", "axis": null}, "x2": {"field": "to_fl"}, "y": {"field": "from_pct", "type": "quantitative", "axis": {"values": [0, 20, 40, 60, 80, 100], "labelFontSize": 16, "tickSize": 5, "tickWidth": 2, "labelPadding": 3, "domainWidth": 4, "grid": false, "title": null, "labelFlush": false, "labelOverlap": false, "labelBound": false}}, "y2": {"field": "to_pct"}}},
              {"data": {"name": "notes"}, "mark": {"type": "text", "color": "black", "fontSize": 18},
               "encoding": {"x": {"field": "fl", "type": "quantitative", "axis": null}, "y": {"field": "pct", "type": "quantitative", "axis": {"values": [0, 20, 40, 60, 80, 100], "labelFontSize": 16, "tickSize": 5, "tickWidth": 2, "labelPadding": 3, "domainWidth": 4, "grid": false, "title": null, "labelFlush": false, "labelOverlap": false, "labelBound": false}}, "text": {"field": "label"}}}
            ]
          },
          {
            "width": 202, "height": 184, "title": {"text": "CD19", "offset": 15},
            "data": {"name": "hist"}, "view": {"stroke": "black", "strokeWidth": 4},
            "resolve": {"axis": {"x": "independent"}},
            "encoding": {"y": {"field": "pct", "type": "quantitative", "scale": {"domain": [0, 100], "nice": false, "zero": false}, "axis": {"values": [0, 20, 40, 60, 80, 100], "labelFontSize": 16, "tickSize": 5, "tickWidth": 2, "labelPadding": 3, "domainWidth": 4, "grid": false, "title": null, "labelFlush": false, "labelOverlap": false, "labelBound": false}}},
            "layer": [
              {"transform": [{"filter": "datum.panel == 'CD19' && datum.series == 'WT'"}], "mark": {"type": "area", "color": "#9a9a9a", "clip": true},
               "encoding": {"x": {"field": "fl", "type": "quantitative", "scale": {"type": "log", "domain": [1, 10000], "nice": false}, "axis": {"orient": "bottom", "values": [1, 10, 100, 1000, 10000], "labelExpr": "'10'", "labelFontSize": 17, "labelDx": -6, "labelPadding": 3, "tickSize": 5, "tickWidth": 2, "domainWidth": 4, "grid": false, "title": null, "labelFlush": false, "labelOverlap": false, "labelBound": false}}}},
              {"transform": [{"filter": "datum.panel == 'CD19' && datum.series == 'NC'"}], "mark": {"type": "line", "color": "black", "strokeWidth": 2.8, "strokeDash": [0.5, 4], "strokeCap": "round", "clip": true},
               "encoding": {"x": {"field": "fl", "type": "quantitative", "axis": {"orient": "bottom", "values": [1, 10, 100, 1000, 10000], "labelExpr": "format(round(log(datum.value)/LN10), 'd')", "labelFontSize": 11, "labelDx": 8, "labelPadding": 1, "ticks": false, "tickSize": 0, "domain": false, "grid": false, "title": null, "labelFlush": false, "labelOverlap": false, "labelBound": false}}}},
              {"transform": [{"filter": "datum.panel == 'CD19' && datum.series == 'TMX-/-'"}], "mark": {"type": "line", "color": "black", "strokeWidth": 3, "strokeJoin": "round", "clip": true},
               "encoding": {"x": {"field": "fl", "type": "quantitative", "axis": {"orient": "bottom", "values": [2,3,4,5,6,7,8,9,20,30,40,50,60,70,80,90,200,300,400,500,600,700,800,900,2000,3000,4000,5000,6000,7000,8000,9000], "labels": false, "tickSize": 3, "tickWidth": 1.5, "domain": false, "grid": false, "title": null}}}}
            ]
          },
          {
            "width": 202, "height": 184, "title": {"text": "TCR", "offset": 15},
            "data": {"name": "hist"}, "view": {"stroke": "black", "strokeWidth": 4},
            "resolve": {"axis": {"x": "independent"}},
            "encoding": {"y": {"field": "pct", "type": "quantitative", "scale": {"domain": [0, 100], "nice": false, "zero": false}, "axis": {"values": [0, 20, 40, 60, 80, 100], "labelFontSize": 16, "tickSize": 5, "tickWidth": 2, "labelPadding": 3, "domainWidth": 4, "grid": false, "title": null, "labelFlush": false, "labelOverlap": false, "labelBound": false}}},
            "layer": [
              {"transform": [{"filter": "datum.panel == 'TCR' && datum.series == 'WT'"}], "mark": {"type": "area", "color": "#9a9a9a", "clip": true},
               "encoding": {"x": {"field": "fl", "type": "quantitative", "scale": {"type": "log", "domain": [1, 10000], "nice": false}, "axis": {"orient": "bottom", "values": [1, 10, 100, 1000, 10000], "labelExpr": "'10'", "labelFontSize": 17, "labelDx": -6, "labelPadding": 3, "tickSize": 5, "tickWidth": 2, "domainWidth": 4, "grid": false, "title": null, "labelFlush": false, "labelOverlap": false, "labelBound": false}}}},
              {"transform": [{"filter": "datum.panel == 'TCR' && datum.series == 'NC'"}], "mark": {"type": "line", "color": "black", "strokeWidth": 2.8, "strokeDash": [0.5, 4], "strokeCap": "round", "clip": true},
               "encoding": {"x": {"field": "fl", "type": "quantitative", "axis": {"orient": "bottom", "values": [1, 10, 100, 1000, 10000], "labelExpr": "format(round(log(datum.value)/LN10), 'd')", "labelFontSize": 11, "labelDx": 8, "labelPadding": 1, "ticks": false, "tickSize": 0, "domain": false, "grid": false, "title": null, "labelFlush": false, "labelOverlap": false, "labelBound": false}}}},
              {"transform": [{"filter": "datum.panel == 'TCR' && datum.series == 'TMX-/-'"}], "mark": {"type": "line", "color": "black", "strokeWidth": 3, "strokeJoin": "round", "clip": true},
               "encoding": {"x": {"field": "fl", "type": "quantitative", "axis": {"orient": "bottom", "values": [2,3,4,5,6,7,8,9,20,30,40,50,60,70,80,90,200,300,400,500,600,700,800,900,2000,3000,4000,5000,6000,7000,8000,9000], "labels": false, "tickSize": 3, "tickWidth": 1.5, "domain": false, "grid": false, "title": null}}}}
            ]
          }
        ]
      },
      {
        "spacing": 20,
        "hconcat": [
          {
            "width": 202, "height": 184, "title": {"text": "CD4", "offset": -7},
            "data": {"name": "hist"}, "view": {"stroke": "black", "strokeWidth": 4},
            "resolve": {"axis": {"x": "independent"}},
            "encoding": {"y": {"field": "pct", "type": "quantitative", "scale": {"domain": [0, 100], "nice": false, "zero": false}, "axis": {"values": [0, 20, 40, 60, 80, 100], "labelFontSize": 16, "tickSize": 5, "tickWidth": 2, "labelPadding": 3, "domainWidth": 4, "grid": false, "title": null, "labelFlush": false, "labelOverlap": false, "labelBound": false}}},
            "layer": [
              {"transform": [{"filter": "datum.panel == 'CD4' && datum.series == 'WT'"}], "mark": {"type": "area", "color": "#9a9a9a", "clip": true},
               "encoding": {"x": {"field": "fl", "type": "quantitative", "scale": {"type": "log", "domain": [1, 10000], "nice": false}, "axis": {"orient": "bottom", "values": [1, 10, 100, 1000, 10000], "labelExpr": "'10'", "labelFontSize": 17, "labelDx": -6, "labelPadding": 3, "tickSize": 5, "tickWidth": 2, "domainWidth": 4, "grid": false, "title": null, "labelFlush": false, "labelOverlap": false, "labelBound": false}}}},
              {"transform": [{"filter": "datum.panel == 'CD4' && datum.series == 'NC'"}], "mark": {"type": "line", "color": "black", "strokeWidth": 2.8, "strokeDash": [0.5, 4], "strokeCap": "round", "clip": true},
               "encoding": {"x": {"field": "fl", "type": "quantitative", "axis": {"orient": "bottom", "values": [1, 10, 100, 1000, 10000], "labelExpr": "format(round(log(datum.value)/LN10), 'd')", "labelFontSize": 11, "labelDx": 8, "labelPadding": 1, "ticks": false, "tickSize": 0, "domain": false, "grid": false, "title": null, "labelFlush": false, "labelOverlap": false, "labelBound": false}}}},
              {"transform": [{"filter": "datum.panel == 'CD4' && datum.series == 'TMX-/-'"}], "mark": {"type": "line", "color": "black", "strokeWidth": 3, "strokeJoin": "round", "clip": true},
               "encoding": {"x": {"field": "fl", "type": "quantitative", "axis": {"orient": "bottom", "values": [2,3,4,5,6,7,8,9,20,30,40,50,60,70,80,90,200,300,400,500,600,700,800,900,2000,3000,4000,5000,6000,7000,8000,9000], "labels": false, "tickSize": 3, "tickWidth": 1.5, "domain": false, "grid": false, "title": null}}}}
            ]
          },
          {
            "width": 202, "height": 184, "title": {"text": "CD8", "offset": -7},
            "data": {"name": "hist"}, "view": {"stroke": "black", "strokeWidth": 4},
            "resolve": {"axis": {"x": "independent"}},
            "encoding": {"y": {"field": "pct", "type": "quantitative", "scale": {"domain": [0, 100], "nice": false, "zero": false}, "axis": {"values": [0, 20, 40, 60, 80, 100], "labelFontSize": 16, "tickSize": 5, "tickWidth": 2, "labelPadding": 3, "domainWidth": 4, "grid": false, "title": null, "labelFlush": false, "labelOverlap": false, "labelBound": false}}},
            "layer": [
              {"transform": [{"filter": "datum.panel == 'CD8' && datum.series == 'WT'"}], "mark": {"type": "area", "color": "#9a9a9a", "clip": true},
               "encoding": {"x": {"field": "fl", "type": "quantitative", "scale": {"type": "log", "domain": [1, 10000], "nice": false}, "axis": {"orient": "bottom", "values": [1, 10, 100, 1000, 10000], "labelExpr": "'10'", "labelFontSize": 17, "labelDx": -6, "labelPadding": 3, "tickSize": 5, "tickWidth": 2, "domainWidth": 4, "grid": false, "title": null, "labelFlush": false, "labelOverlap": false, "labelBound": false}}}},
              {"transform": [{"filter": "datum.panel == 'CD8' && datum.series == 'NC'"}], "mark": {"type": "line", "color": "black", "strokeWidth": 2.8, "strokeDash": [0.5, 4], "strokeCap": "round", "clip": true},
               "encoding": {"x": {"field": "fl", "type": "quantitative", "axis": {"orient": "bottom", "values": [1, 10, 100, 1000, 10000], "labelExpr": "format(round(log(datum.value)/LN10), 'd')", "labelFontSize": 11, "labelDx": 8, "labelPadding": 1, "ticks": false, "tickSize": 0, "domain": false, "grid": false, "title": null, "labelFlush": false, "labelOverlap": false, "labelBound": false}}}},
              {"transform": [{"filter": "datum.panel == 'CD8' && datum.series == 'TMX-/-'"}], "mark": {"type": "line", "color": "black", "strokeWidth": 3, "strokeJoin": "round", "clip": true},
               "encoding": {"x": {"field": "fl", "type": "quantitative", "axis": {"orient": "bottom", "values": [2,3,4,5,6,7,8,9,20,30,40,50,60,70,80,90,200,300,400,500,600,700,800,900,2000,3000,4000,5000,6000,7000,8000,9000], "labels": false, "tickSize": 3, "tickWidth": 1.5, "domain": false, "grid": false, "title": null}}}}
            ]
          },
          {
            "width": 202, "height": 184, "title": {"text": "CD11b", "offset": -7},
            "data": {"name": "hist"}, "view": {"stroke": "black", "strokeWidth": 4},
            "resolve": {"axis": {"x": "independent"}},
            "encoding": {"y": {"field": "pct", "type": "quantitative", "scale": {"domain": [0, 100], "nice": false, "zero": false}, "axis": {"values": [0, 20, 40, 60, 80, 100], "labelFontSize": 16, "tickSize": 5, "tickWidth": 2, "labelPadding": 3, "domainWidth": 4, "grid": false, "title": null, "labelFlush": false, "labelOverlap": false, "labelBound": false}}},
            "layer": [
              {"transform": [{"filter": "datum.panel == 'CD11b' && datum.series == 'WT'"}], "mark": {"type": "area", "color": "#9a9a9a", "clip": true},
               "encoding": {"x": {"field": "fl", "type": "quantitative", "scale": {"type": "log", "domain": [1, 10000], "nice": false}, "axis": {"orient": "bottom", "values": [1, 10, 100, 1000, 10000], "labelExpr": "'10'", "labelFontSize": 17, "labelDx": -6, "labelPadding": 3, "tickSize": 5, "tickWidth": 2, "domainWidth": 4, "grid": false, "title": null, "labelFlush": false, "labelOverlap": false, "labelBound": false}}}},
              {"transform": [{"filter": "datum.panel == 'CD11b' && datum.series == 'NC'"}], "mark": {"type": "line", "color": "black", "strokeWidth": 2.8, "strokeDash": [0.5, 4], "strokeCap": "round", "clip": true},
               "encoding": {"x": {"field": "fl", "type": "quantitative", "axis": {"orient": "bottom", "values": [1, 10, 100, 1000, 10000], "labelExpr": "format(round(log(datum.value)/LN10), 'd')", "labelFontSize": 11, "labelDx": 8, "labelPadding": 1, "ticks": false, "tickSize": 0, "domain": false, "grid": false, "title": null, "labelFlush": false, "labelOverlap": false, "labelBound": false}}}},
              {"transform": [{"filter": "datum.panel == 'CD11b' && datum.series == 'TMX-/-'"}], "mark": {"type": "line", "color": "black", "strokeWidth": 3, "strokeJoin": "round", "clip": true},
               "encoding": {"x": {"field": "fl", "type": "quantitative", "axis": {"orient": "bottom", "values": [2,3,4,5,6,7,8,9,20,30,40,50,60,70,80,90,200,300,400,500,600,700,800,900,2000,3000,4000,5000,6000,7000,8000,9000], "labels": false, "tickSize": 3, "tickWidth": 1.5, "domain": false, "grid": false, "title": null}}}}
            ]
          }
        ]
      }
    ]
  }
]
}
